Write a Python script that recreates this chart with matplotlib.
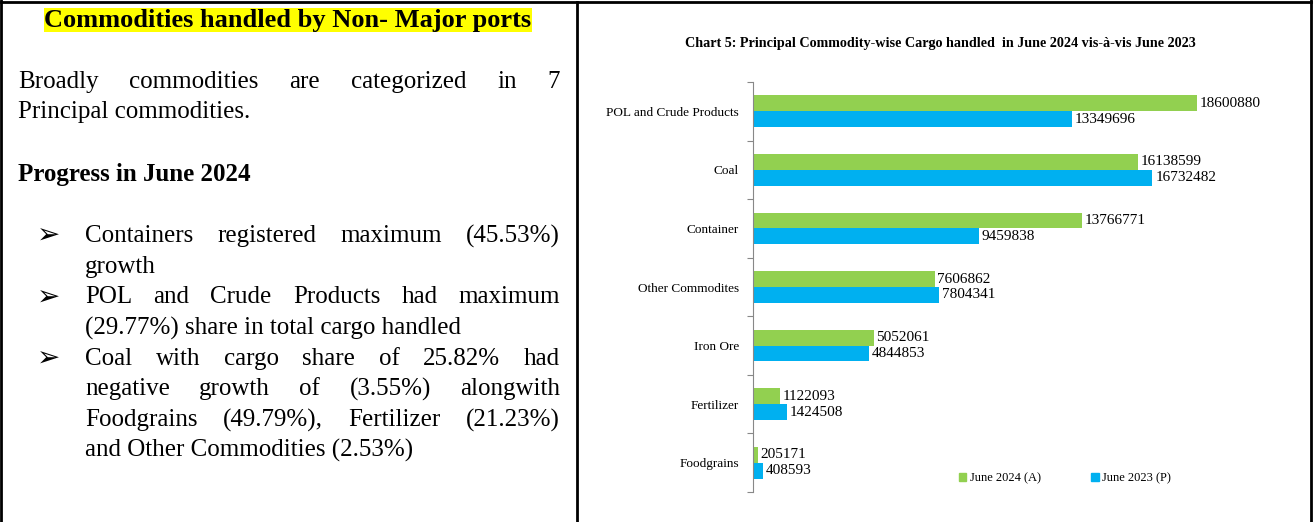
import numpy as np
import matplotlib
matplotlib.use('Agg')
import matplotlib.pyplot as plt
from matplotlib.lines import Line2D
from matplotlib.patches import Patch

W, H = 1314, 522

# chart data
categories = ['POL and Crude Products', 'Coal', 'Container', 'Other Commodites',
              'Iron Ore', 'Fertilizer', 'Foodgrains']
june_2024 = [18600880, 16138599, 13766771, 7606862, 5052061, 1122093, 205171]
june_2023 = [13349696, 16732482, 9459838, 7804341, 4844853, 1424508, 408593]

SERIF = ['Liberation Serif', 'DejaVu Serif', 'DejaVu Sans']
plt.rcParams['font.family'] = SERIF

fig = plt.figure(figsize=(W / 100, H / 100), dpi=100)


def px(x, y):
    return x / W, 1 - y / H


# table borders
for xs, ys in [((1, 1), (0, H)), ((577, 577), (2, H)), ((1311, 1311), (0, H)), ((1, 1311), (2, 2))]:
    fig.add_artist(Line2D([x / W for x in xs], [1 - y / H for y in ys], color='black', lw=2))

renderer = fig.canvas.get_renderer()


def put(x, y, s, **kw):
    return fig.text(*px(x, y), s, va='center', ha='left', **kw)


def justify(line, x0, x1, y, **kw):
    words = line.split()
    texts = [put(x0, y, w, **kw) for w in words]
    widths = [t.get_window_extent(renderer).width for t in texts]
    gap = (x1 - x0 - sum(widths)) / (len(words) - 1)
    x = x0
    for t, w in zip(texts, widths):
        t.set_position(px(x, y))
        x += w + gap


# left panel
fig.text(*px(288, 20), 'Commodities handled by Non- Major ports', ha='center', va='center',
         fontsize=19, fontweight='bold',
         bbox=dict(facecolor='#FFFF00', edgecolor='none', pad=0.5))
body = 18
justify('Broadly commodities are categorized in 7', 18, 560, 82, fontsize=body)
put(18, 112, 'Principal commodities.', fontsize=body)
put(18, 175, 'Progress in June 2024', fontsize=body, fontweight='bold')

bx0, bx1 = 85, 560
lines = [
    ('Containers registered maximum (45.53%)', True, True),
    ('growth', False, False),
    ('POL and Crude Products had maximum', True, True),
    ('(29.77%) share in total cargo handled', False, False),
    ('Coal with cargo share of 25.82% had', True, True),
    ('negative growth of (3.55%) alongwith', False, True),
    ('Foodgrains (49.79%), Fertilizer (21.23%)', False, True),
    ('and Other Commodities (2.53%)', False, False),
]
y = 236
for text, bullet, just in lines:
    if bullet:
        put(37, y, '\u27a2', fontsize=20, family=['DejaVu Sans'], fontweight='bold')
    if just:
        justify(text, bx0, bx1, y, fontsize=body)
    else:
        put(bx0, y, text, fontsize=body)
    y += 30.7

# chart
fig.text(*px(940, 43), 'Chart 5: Principal Commodity-wise Cargo handled  in June 2024 vis-\u00e0-vis June 2023',
         ha='center', va='center', fontsize=10.2, fontweight='bold')

ax = fig.add_axes([753 / W, 1 - 492 / H, (1290 - 753) / W, 410 / H])
pos = np.arange(len(categories))
bh = 0.27
green, blue = '#92D050', '#00B0F0'
ax.barh(pos - bh / 2, june_2024, height=bh, color=green)
ax.barh(pos + bh / 2, june_2023, height=bh, color=blue)
for p, a, b in zip(pos, june_2024, june_2023):
    ax.text(a + 120000, p - bh / 2, str(a), va='center', ha='left', fontsize=11)
    ax.text(b + 120000, p + bh / 2, str(b), va='center', ha='left', fontsize=11)

ax.set_xlim(0, 22.5e6)
ax.set_ylim(len(categories) - 0.5, -0.5)
ax.set_yticks(np.arange(len(categories) + 1) - 0.5)
ax.set_yticklabels([])
ax.set_yticks(pos, minor=True)
ax.set_yticklabels(categories, minor=True, fontsize=9.5)
ax.tick_params(axis='y', which='major', length=4, color='#888888')
ax.tick_params(axis='y', which='minor', length=0, pad=10)
ax.set_xticks([])
for s in ['top', 'right', 'bottom']:
    ax.spines[s].set_visible(False)
ax.spines['left'].set_color('#888888')
ax.patch.set_alpha(0)

handles = [Patch(color=green, label='June 2024 (A)'), Patch(color=blue, label='June 2023 (P)')]
fig.legend(handles=handles, loc='center', bbox_to_anchor=px(1065, 478), ncol=2, frameon=False,
           fontsize=9, handlelength=0.6, handleheight=0.6, handletextpad=0.3, columnspacing=4)

fig.savefig('out.png', dpi=100)
